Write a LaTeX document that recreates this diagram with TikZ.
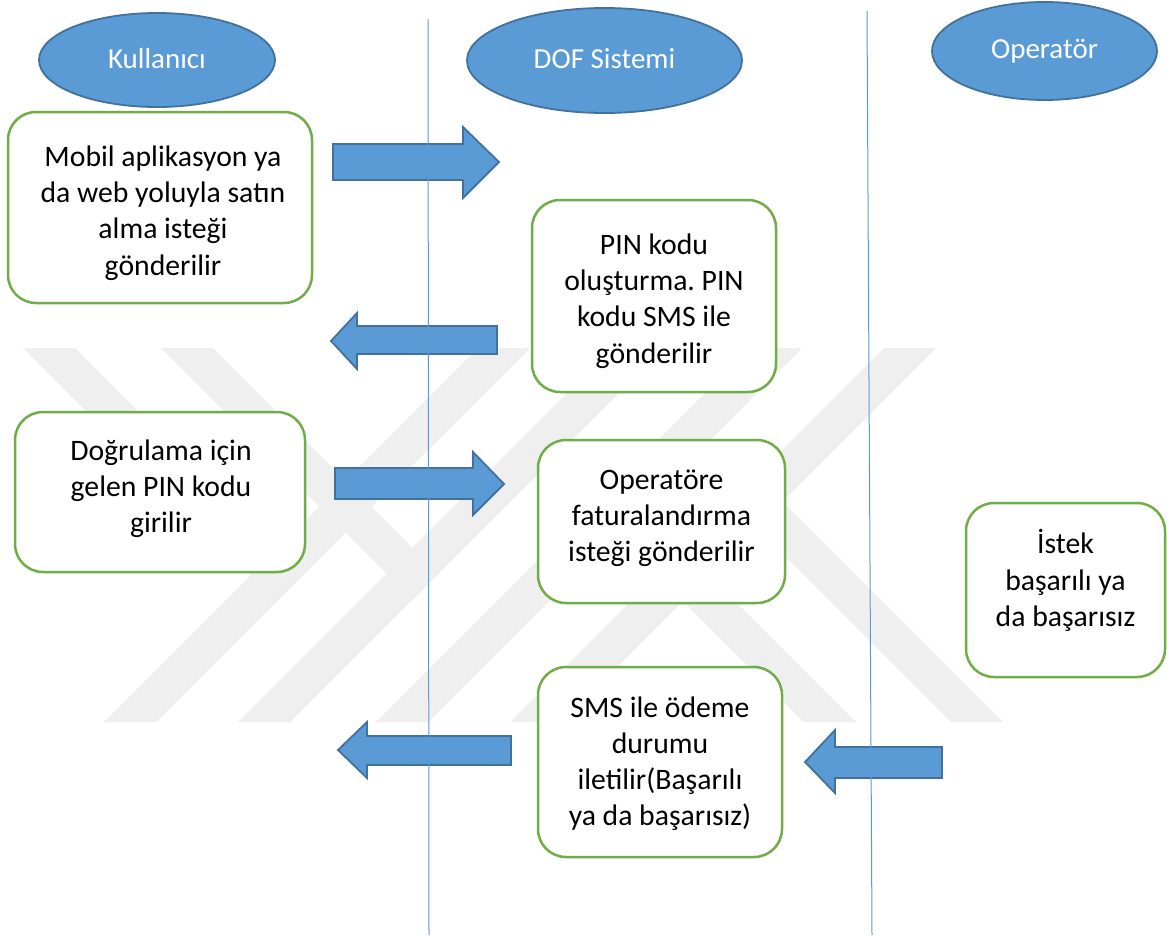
\documentclass[tikz,border=0pt]{standalone}
\usepackage{fontspec}
\setmainfont{Carlito}
\usetikzlibrary{shapes.geometric}
\definecolor{laneblue}{HTML}{5B9BD5}
\definecolor{edgeblue}{HTML}{41719C}
\definecolor{boxgreen}{HTML}{70AD47}
\definecolor{markgray}{HTML}{EFEFEF}
\frenchspacing

\begin{document}
\begin{tikzpicture}[x=1pt,y=-1pt,
  actor/.style={ellipse, draw=edgeblue, line width=1.8pt, fill=laneblue,
    inner sep=0pt, text=white, font=\fontsize{29}{35}\selectfont},
  stepbox/.style={draw=boxgreen, line width=2.5pt, fill=white, rounded corners=28pt, inner sep=0pt},
  boxtext/.style={align=center, inner sep=0pt, font=\fontsize{29.7}{36.2}\selectfont},
  blockarrow/.style={fill=laneblue, draw=edgeblue, line width=1.8pt, line join=miter},
  lane/.style={draw=laneblue, line width=1pt},
  band/.style={fill=markgray, draw=none}]
\useasboundingbox (0,0) rectangle (1167,935);
\fill[white] (0,0) rectangle (1167,935);

% faint background emblem made of diagonal stripes
\foreach \a in {478,612,750,884}
  \fill[band] (\a,348) -- ++(52,0) -- ++(-374,374) -- ++(-52,0) -- cycle;
\fill[band] (23,348) -- (75,348) -- (302.5,575.5) -- (276.5,601.5) -- cycle;
\fill[band] (161,348) -- (213,348) -- (438.5,573.5) -- (412.5,599.5) -- cycle;
\fill[band] (804,722) -- (856,722) -- (616,482) -- (590,508) -- cycle;
\fill[band] (951,722) -- (1003,722) -- (756.5,475.5) -- (730.5,501.5) -- cycle;

% swimlane heads
\node[actor, minimum width=236, minimum height=94] (user) at (157,60) {\raisebox{3pt}{Kullanıcı}};
\node[actor, minimum width=275, minimum height=105] (dof) at (604.5,60.5) {\raisebox{4pt}{DOF Sistemi}};
\node[actor, minimum width=225, minimum height=98] (oper) at (1044.5,51) {\raisebox{3pt}{Operatör}};

% block arrows between the lanes
\draw[blockarrow] (333,144) -- (463,144) -- (463,127) -- (499,162) -- (463,198) -- (463,180) -- (333,180) -- cycle;
\draw[blockarrow] (497,326) -- (357,326) -- (357,313) -- (331,341) -- (357,369) -- (357,354) -- (497,354) -- cycle;
\draw[blockarrow] (335,468) -- (473,468) -- (473,452) -- (504,484) -- (473,515) -- (473,499) -- (335,499) -- cycle;
\draw[blockarrow] (511,736) -- (367,736) -- (367,722) -- (338,750) -- (367,778) -- (367,765) -- (511,765) -- cycle;
\draw[blockarrow] (942,747) -- (835,747) -- (835,730) -- (805,762) -- (835,793) -- (835,778) -- (942,778) -- cycle;

% lane separators
\coordinate (laneAtop) at (428,19);
\coordinate (laneAbot) at (429,935);
\coordinate (laneBtop) at (867,11);
\coordinate (laneBbot) at (872,935);
\draw[lane] (laneAtop) -- (laneAbot);
\draw[lane] (laneBtop) -- (laneBbot);

% process steps
\node[stepbox, minimum width=304, minimum height=191] (req) at (160,207.5) {};
\node[boxtext] (reqtext) at (163,213) {Mobil aplikasyon ya\\da web yoluyla satın\\alma isteği\\gönderilir};

\node[stepbox, minimum width=244, minimum height=192] (pin) at (654,296) {};
\node[boxtext] (pintext) at (654,301) {PIN kodu\\oluşturma. PIN\\kodu SMS ile\\gönderilir};

\node[stepbox, minimum width=290, minimum height=160] (verify) at (160,492) {};
\node[boxtext] (verifytext) at (161,489) {Doğrulama için\\gelen PIN kodu\\girilir};

\node[stepbox, minimum width=247, minimum height=163] (bill) at (661.5,521.5) {};
\node[boxtext] (billtext) at (661.5,518) {Operatöre\\faturalandırma\\isteği gönderilir};

\node[stepbox, minimum width=199, minimum height=174] (result) at (1065.5,590) {};
\node[boxtext] (resulttext) at (1065.5,580.5) {İstek\\başarılı ya\\da başarısız};

\node[stepbox, minimum width=244, minimum height=190] (notify) at (660,762) {};
\node[boxtext] (notifytext) at (660,763.5) {SMS ile ödeme\\durumu\\iletilir(Başarılı\\ya da başarısız)};
\end{tikzpicture}
\end{document}
